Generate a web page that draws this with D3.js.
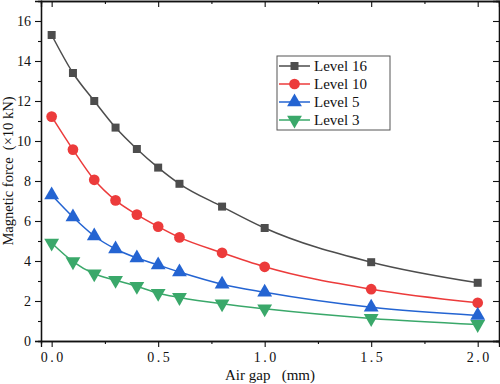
<!DOCTYPE html>
<html>
<head>
<meta charset="utf-8">
<script src="https://cdn.jsdelivr.net/npm/d3@7"></script>
<style>
  body { margin: 0; background: #fff; }
</style>
</head>
<body>
<div id="chart"></div>
<script>
const width = 500;
const height = 384;

// air gap (mm)
const gaps = [0, 0.1, 0.2, 0.3, 0.4, 0.5, 0.6, 0.8, 1.0, 1.5, 2.0];

// magnetic force (x10 kN)
const level16 = [15.3, 13.4, 12.0, 10.67, 9.6, 8.67, 7.86, 6.72, 5.65, 3.94, 2.91];
const level10 = [11.22, 9.57, 8.06, 7.03, 6.32, 5.72, 5.18, 4.41, 3.71, 2.59, 1.91];
const level5 = [7.3, 6.2, 5.25, 4.6, 4.15, 3.8, 3.45, 2.84, 2.44, 1.69, 1.28];
const level3 = [4.9, 3.97, 3.36, 3.04, 2.74, 2.39, 2.18, 1.86, 1.61, 1.13, 0.83];

const seriesNames = ["Level 16", "Level 10", "Level 5", "Level 3"];
const seriesValues = [level16, level10, level5, level3];
const colors = ["#4d4d4d", "#ec3b3b", "#2464d2", "#3aa86a"];
const markers = [d3.symbolSquare, d3.symbolCircle, d3.symbolTriangle, "down"];

const xTicks = [0, 0.5, 1.0, 1.5, 2.0];
const yTicks = [0, 2, 4, 6, 8, 10, 12, 14, 16];

const margin = { top: 1, right: 1, bottom: 43, left: 41 };
const serif = "'Liberation Serif'";

const svg = d3.select("#chart").append("svg")
  .attr("width", width)
  .attr("height", height);

const x = d3.scaleLinear()
  .domain([-0.05, 2.1])
  .range([margin.left, width - margin.right]);

const y = d3.scaleLinear()
  .domain([0, 17])
  .range([height - margin.bottom, margin.top]);

// axes
const axisB = svg.append("g")
  .attr("transform", `translate(0,${height - margin.bottom})`)
  .call(d3.axisBottom(x).tickValues(xTicks).tickSize(6).tickFormat(d3.format(".1f")));
axisB.append("g").call(d3.axisBottom(x).tickValues([0.25, 0.75, 1.25, 1.75]).tickSize(3).tickFormat(""));

const axisL = svg.append("g")
  .attr("transform", `translate(${margin.left},0)`)
  .call(d3.axisLeft(y).tickValues(yTicks).tickSize(6).tickFormat(d3.format("d")));
axisL.append("g").call(d3.axisLeft(y).tickValues(d3.range(1, 17, 2)).tickSize(3).tickFormat(""));

const axisT = svg.append("g")
  .attr("transform", `translate(0,${margin.top})`)
  .call(d3.axisBottom(x).tickValues(xTicks).tickSize(6).tickFormat(""));
axisT.append("g").call(d3.axisBottom(x).tickValues([0.25, 0.75, 1.25, 1.75]).tickSize(3).tickFormat(""));

const axisR = svg.append("g")
  .attr("transform", `translate(${width - margin.right},0)`)
  .call(d3.axisLeft(y).tickValues(yTicks).tickSize(6).tickFormat(""));
axisR.append("g").call(d3.axisLeft(y).tickValues(d3.range(1, 17, 2)).tickSize(3).tickFormat(""));

svg.selectAll(".domain").attr("stroke", "#111").attr("stroke-width", 1.3);
svg.selectAll(".tick line").attr("stroke", "#111").attr("stroke-width", 1.1);

axisB.selectAll(".tick text")
  .attr("font-size", 14)
  .attr("letter-spacing", "2.5px")
  .attr("dx", "1px")
  .attr("dy", "0.85em");
axisL.selectAll(".tick text")
  .attr("font-size", 14)
  .attr("dx", "-1px");

// axis titles
svg.append("text")
  .attr("x", (margin.left + width - margin.right) / 2)
  .attr("y", 380)
  .attr("text-anchor", "middle")
  .attr("font-size", 15)
  .style("white-space", "pre")
  .text("Air gap   (mm)");

svg.append("text")
  .attr("transform", `translate(13,${171}) rotate(-90)`)
  .attr("text-anchor", "middle")
  .attr("font-size", 14.5)
  .style("white-space", "pre")
  .text("Magnetic force  (×10 kN)");

// lines and markers
const line = d3.line()
  .x((d, i) => x(gaps[i]))
  .y(d => y(d))
  .curve(d3.curveMonotoneX);

function symbolPath(m, size) {
  if (m === "down") {
    return d3.symbol(d3.symbolTriangle, size)();
  }
  return d3.symbol(m, size)();
}

const sizes = [64, 90, 95, 95];

seriesValues.forEach((vals, s) => {
  svg.append("path")
    .datum(vals)
    .attr("fill", "none")
    .attr("stroke", colors[s])
    .attr("stroke-width", 1.5)
    .attr("d", line);

  svg.append("g")
    .selectAll("path")
    .data(vals)
    .join("path")
    .attr("d", symbolPath(markers[s], sizes[s]))
    .attr("transform", (d, i) => `translate(${x(gaps[i])},${y(d)})` + (markers[s] === "down" ? " rotate(180)" : ""))
    .attr("fill", colors[s]);
});

// legend
const legend = svg.append("g").attr("transform", "translate(277,56)");
legend.append("rect")
  .attr("width", 113)
  .attr("height", 74)
  .attr("fill", "#fff")
  .attr("stroke", "#555")
  .attr("stroke-width", 1);

seriesNames.forEach((name, s) => {
  const ly = 10 + s * 18;
  legend.append("line")
    .attr("x1", 2).attr("x2", 33)
    .attr("y1", ly).attr("y2", ly)
    .attr("stroke", colors[s])
    .attr("stroke-width", 1.5);
  legend.append("path")
    .attr("d", symbolPath(markers[s], sizes[s]))
    .attr("transform", `translate(17.5,${ly})` + (markers[s] === "down" ? " rotate(180)" : ""))
    .attr("fill", colors[s]);
  legend.append("text")
    .attr("x", 37)
    .attr("y", ly + 5)
    .attr("font-size", 15)
    .text(name);
});

// serif font for every text
svg.selectAll("text")
  .style("font-family", serif)
  .attr("fill", "#111");
</script>
</body>
</html>
